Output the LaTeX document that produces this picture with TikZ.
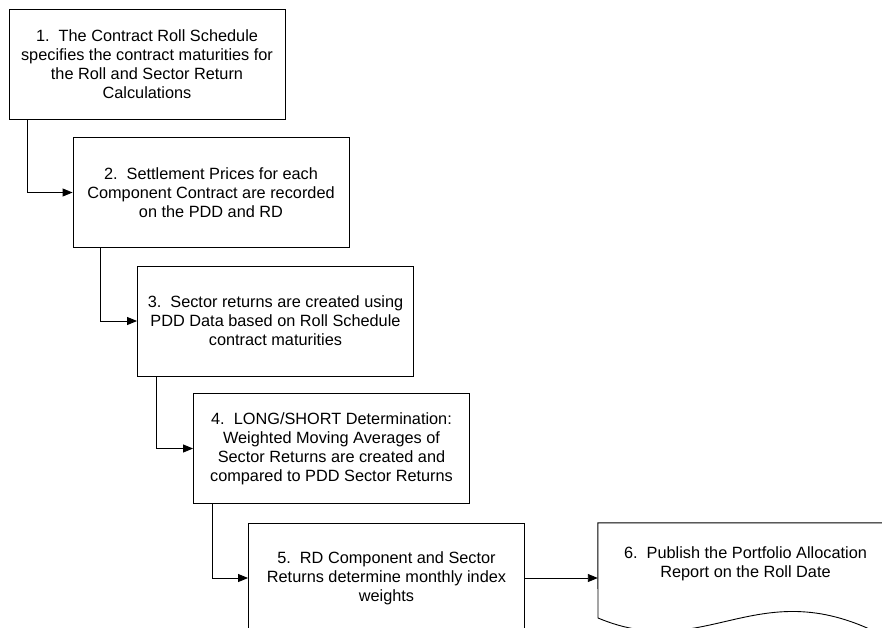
\documentclass[tikz,border=0pt]{standalone}
\usepackage{fontspec}
\setmainfont{Liberation Sans}
\usetikzlibrary{arrows.meta}
\begin{document}
\begin{tikzpicture}[x=1pt,y=-1pt,
  pbox/.style={draw=black, line width=0.9pt, minimum width=276pt, minimum height=110pt,
    inner sep=0pt, align=center, font=\fontsize{16.3}{18.9}\selectfont},
  ptext/.style={inner sep=0pt, align=center, font=\fontsize{16.3}{18.9}\selectfont},
  arr/.style={draw=black, line width=0.9pt, -{Triangle[length=10pt,width=8pt]}}]
\useasboundingbox (0,0) rectangle (882,627);

\node[pbox] (b1) at (147,64.5) {1.~~The Contract Roll Schedule\\specifies the contract maturities for\\the Roll and Sector Return\\Calculations};
\node[pbox] (b2) at (211,192.5) {2.~~Settlement Prices for each\\Component Contract are recorded\\on the PDD and RD};
\node[pbox] (b3) at (275.5,321) {3.~~Sector returns are created using\\PDD Data based on Roll Schedule\\contract maturities};
\node[pbox] (b4) at (331.5,448.5) {4.~~LONG/SHORT Determination:\\Weighted Moving Averages of\\Sector Returns are created and\\compared to PDD Sector Returns};
\node[pbox] (b5) at (386.5,578) {5.~~RD Component and Sector\\Returns determine monthly index\\weights};

% document shape 6
\node[minimum width=295pt, minimum height=110pt, inner sep=0pt] (b6) at (745.5,578) {};
\draw[line width=0.9pt] (b6.north west) -- (b6.north east) -- ([yshift=-8pt]b6.south east)
  .. controls (760,565) and (710,665) .. (598,618) -- cycle;
\node[ptext] (t6) at (745.5,564) {6.~~Publish the Portfolio Allocation\\Report on the Roll Date};

\draw[arr] ([xshift=18.7pt]b1.south west) |- (b2.west);
\draw[arr] ([xshift=28pt]b2.south west) |- (b3.west);
\draw[arr] ([xshift=19pt]b3.south west) |- (b4.west);
\draw[arr] ([xshift=19pt]b4.south west) |- (b5.west);
\draw[arr] (b5.east) -- (b6.west);
\end{tikzpicture}
\end{document}
